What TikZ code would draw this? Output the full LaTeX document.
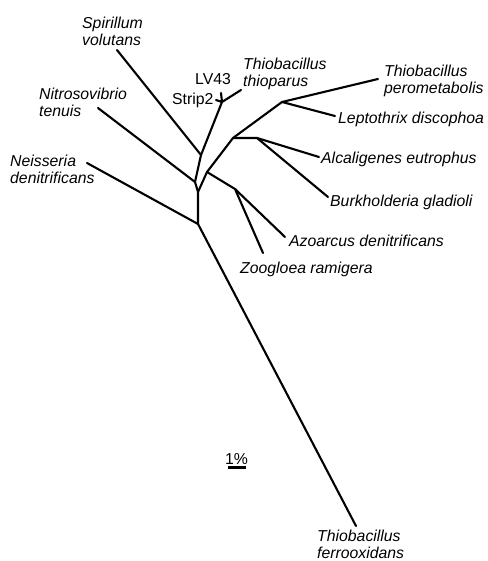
\documentclass[tikz,border=0pt]{standalone}
\usepackage{fontspec}
\setmainfont{Liberation Sans}
\usepackage{tikz}
\tikzset{
  taxon/.style={inner sep=0pt, anchor=north west, align=left,
                font=\fontsize{15.8}{17}\selectfont\itshape},
  clone/.style={inner sep=0pt, anchor=north west, font=\fontsize{15.8}{17}\selectfont},
  branch/.style={line width=2.1pt, line cap=round, line join=round},
  scalebar/.style={line width=2.4pt},
}

\begin{document}
\begin{tikzpicture}[x=1pt, y=-1pt]
    \useasboundingbox (0,0) rectangle (487,561);
    % inner nodes of the tree
    \coordinate (n1) at (198,224);
    \coordinate (n2) at (198,192);
    \coordinate (n3) at (207,172);
    \coordinate (n4) at (195,182);
    \coordinate (n5) at (201,155);
    \coordinate (n6) at (222,102);
    \coordinate (nB) at (233,138);
    \coordinate (nA) at (282,102);
    \coordinate (nC) at (257,138);
    \coordinate (nD) at (235,189);
    % tips
    \coordinate (tSpir) at (117,50);
    \coordinate (tNitr) at (98,108);
    \coordinate (tNeis) at (87,163);
    \coordinate (tFerr) at (356,526);
    \coordinate (tLV) at (221,93);
    \coordinate (tStr) at (216,100);
    \coordinate (tThio) at (241,90);
    \coordinate (tPero) at (378,79);
    \coordinate (tLept) at (335,116);
    \coordinate (tAlca) at (319,157);
    \coordinate (tBurk) at (328,197);
    \coordinate (tAzoa) at (285,237);
    \coordinate (tZoog) at (263,253);
    % labels
    \node[taxon] (spir) at (82,17) {Spirillum\\volutans};
    \node[taxon] (nitr) at (39,88) {Nitrosovibrio\\tenuis};
    \node[taxon] (neis) at (10,155) {Neisseria\\denitrificans};
    \node[taxon] (ferr) at (317,530) {Thiobacillus\\ferrooxidans};
    \node[clone] (lv43) at (195,73) {LV43};
    \node[clone] (strip) at (172,93) {Strip2};
    \node[taxon] (thio) at (243,58) {Thiobacillus\\thioparus};
    \node[taxon] (pero) at (384,65) {Thiobacillus\\perometabolis};
    \node[taxon] (lept) at (338,112) {Leptothrix discophoa};
    \node[taxon] (alca) at (321,152) {Alcaligenes eutrophus};
    \node[taxon] (burk) at (330,195) {Burkholderia gladioli};
    \node[taxon] (azoa) at (289,235) {Azoarcus denitrificans};
    \node[taxon] (zoog) at (240,262) {Zoogloea ramigera};
    \node[clone] (pct) at (225,453) {1\%};
    % branches
    \draw[branch] (tNeis) -- (n1) -- (tFerr);
    \draw[branch] (n1) -- (n2) -- (n4) -- (tNitr);
    \draw[branch] (n4) -- (n5) -- (tSpir);
    \draw[branch] (n5) -- (n6) -- (tThio);
    \draw[branch] (tLV) -- (n6) -- (tStr);
    \draw[branch] (n2) -- (n3) -- (nB) -- (nA) -- (tPero);
    \draw[branch] (nA) -- (tLept);
    \draw[branch] (nB) -- (nC) -- (tAlca);
    \draw[branch] (nC) -- (tBurk);
    \draw[branch] (n3) -- (nD) -- (tAzoa);
    \draw[branch] (nD) -- (tZoog);
    \draw[scalebar] (pct.south west) ++(3,3) -- ++(18,0);
\end{tikzpicture}
\end{document}
